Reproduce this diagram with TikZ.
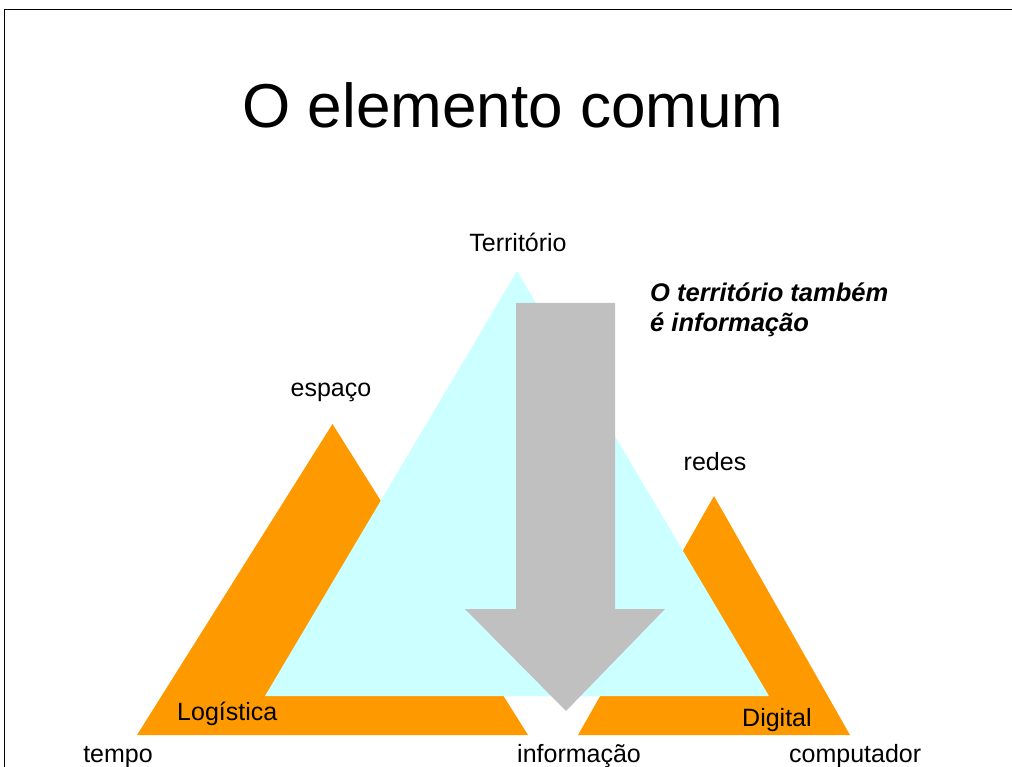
\documentclass[tikz,border=0pt]{standalone}
\usepackage{fontspec}
\setmainfont{Liberation Sans}
\begin{document}
\begin{tikzpicture}[x=1pt,y=-1pt,
  lbl/.style={inner sep=0pt,font=\fontsize{25}{30}\selectfont},
  orangefill/.style={fill=orng,draw=none},
  cyanfill/.style={fill=lcyan,draw=none},
  greyfill/.style={fill=agrey,draw=none}]
\definecolor{orng}{RGB}{255,153,0}
\definecolor{lcyan}{RGB}{204,255,255}
\definecolor{agrey}{RGB}{192,192,192}
\useasboundingbox (0,0) rectangle (1012,767);
\fill[white] (0,0) rectangle (1012,767);
% frame
\draw[line width=1.5pt,black] (4.5,767) -- (4.5,9.5) -- (1012,9.5);
% title
\node[inner sep=0pt,anchor=base,font=\fontsize{62}{70}\selectfont] (title) at (513,128) {O elemento comum};
% left orange triangle
\coordinate (La) at (332.5,424);
\coordinate (Ll) at (137,735);
\coordinate (Lr) at (528,735);
\fill[orangefill] (La) -- (Ll) -- (Lr) -- cycle;
% right orange triangle
\coordinate (Ra) at (714,496);
\coordinate (Rl) at (578,735);
\coordinate (Rr) at (850,735);
\fill[orangefill] (Ra) -- (Rl) -- (Rr) -- cycle;
% cyan triangle
\coordinate (Ca) at (517,271);
\coordinate (Cl) at (265,696);
\coordinate (Cr) at (769,696);
\fill[cyanfill] (Ca) -- (Cl) -- (Cr) -- cycle;
% grey arrow
\fill[greyfill] (516,303) -- (615,303) -- (615,609) -- (665,609) -- (566,711) -- (465,609) -- (516,609) -- cycle;
% labels
\node[lbl,anchor=base] (territorio) at (518,252) {Território};
\node[lbl,anchor=base west,align=left,font=\fontsize{25.5}{30}\selectfont\bfseries\itshape] (note) at (650,331) {O território também\\é informação};
\node[lbl,anchor=base] (espaco) at (331,396) {espaço};
\node[lbl,anchor=base] (redes) at (715,470) {redes};
\node[lbl,anchor=base west] (logistica) at (177,720) {Logística};
\node[lbl,anchor=base west] (digital) at (742,726) {Digital};
\node[lbl,anchor=base] (tempo) at (118,762) {tempo};
\node[lbl,anchor=base west] (informacao) at (517,762) {informação};
\node[lbl,anchor=base west] (computador) at (789,762) {computador};
\end{tikzpicture}
\end{document}
